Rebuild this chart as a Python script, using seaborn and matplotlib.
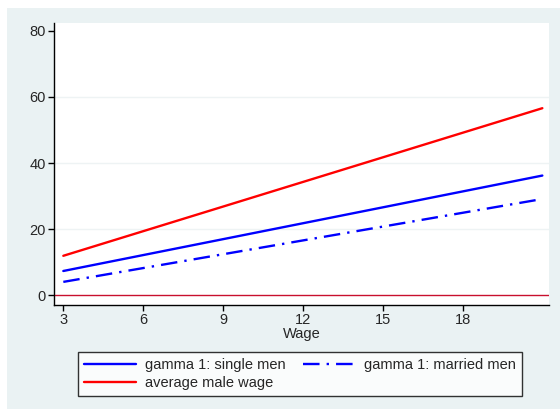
import matplotlib
matplotlib.use("Agg")
import matplotlib.pyplot as plt
import matplotlib.patches as mpatches
import pandas as pd
import seaborn as sns

# Data (straight lines, endpoints only)
wage = [3, 21]
single_men = [7.3, 36.2]
married_men = [4.0, 29.1]
avg_male_wage = [11.9, 56.6]

x_ticks = [3, 6, 9, 12, 15, 18]
y_ticks = [0, 20, 40, 60, 80]

sns.set_style("white")
plt.rcParams['font.family'] = ['Liberation Sans', 'DejaVu Sans']

bg = '#eaf2f3'
fig = plt.figure(figsize=(5.6, 4.09), dpi=100)
fig.patch.set_facecolor('white')
fig.patches.append(mpatches.Rectangle((7 / 560, 0), 1 - 7 / 560, 1 - 8 / 409,
                                      transform=fig.transFigure, facecolor=bg,
                                      edgecolor='none', zorder=-10))

ax = fig.add_axes([54 / 560, (409 - 305) / 409, (549 - 54) / 560, (305 - 23) / 409])
ax.set_facecolor('white')

df = pd.DataFrame({'wage': wage, 'single': single_men,
                   'married': married_men, 'avg': avg_male_wage})

for y in [20, 40, 60]:
    ax.axhline(y, color='#eef3f4', lw=1, zorder=0)
ax.axhline(0, color='#c8102e', lw=1, zorder=1)

sns.lineplot(data=df, x='wage', y='single', ax=ax, color='#0000ff', lw=1.7,
             label='gamma 1: single men')
sns.lineplot(data=df, x='wage', y='married', ax=ax, color='#0000ff', lw=1.7,
             label='gamma 1: married men')
ax.lines[-1].set_dashes([7, 3, 1, 3])
sns.lineplot(data=df, x='wage', y='avg', ax=ax, color='#ff0000', lw=1.7,
             label='average male wage')

ax.set_xlim(2.65, 21.25)
ax.set_ylim(-3, 82.4)
ax.set_xticks(x_ticks)
ax.set_yticks(y_ticks)
ax.tick_params(axis='both', which='major', length=4, width=1, color='black',
               labelsize=10.5, direction='out', bottom=True, left=True, pad=2)
for side in ['top', 'right']:
    ax.spines[side].set_visible(False)
for side in ['left', 'bottom']:
    ax.spines[side].set_color('black')
    ax.spines[side].set_linewidth(1)
ax.set_xlabel('Wage', fontsize=10.5, labelpad=-0.5)
ax.set_ylabel('')

# column-wise fill: single, avg | married
handles, labels = ax.get_legend_handles_labels()
order = [0, 2, 1]
leg = ax.legend([handles[i] for i in order], [labels[i] for i in order],
                loc='lower left', bbox_to_anchor=(78 / 560, 1 - 396 / 409),
                bbox_transform=fig.transFigure, ncol=2,
                fontsize=10.5, frameon=True, fancybox=False, handlelength=3.6,
                borderaxespad=0, borderpad=0.4, labelspacing=0.3,
                columnspacing=1.2, handletextpad=0.6)
leg.get_frame().set_edgecolor('black')
leg.get_frame().set_linewidth(1)

fig.savefig('out.png', dpi=100, facecolor=fig.get_facecolor())
